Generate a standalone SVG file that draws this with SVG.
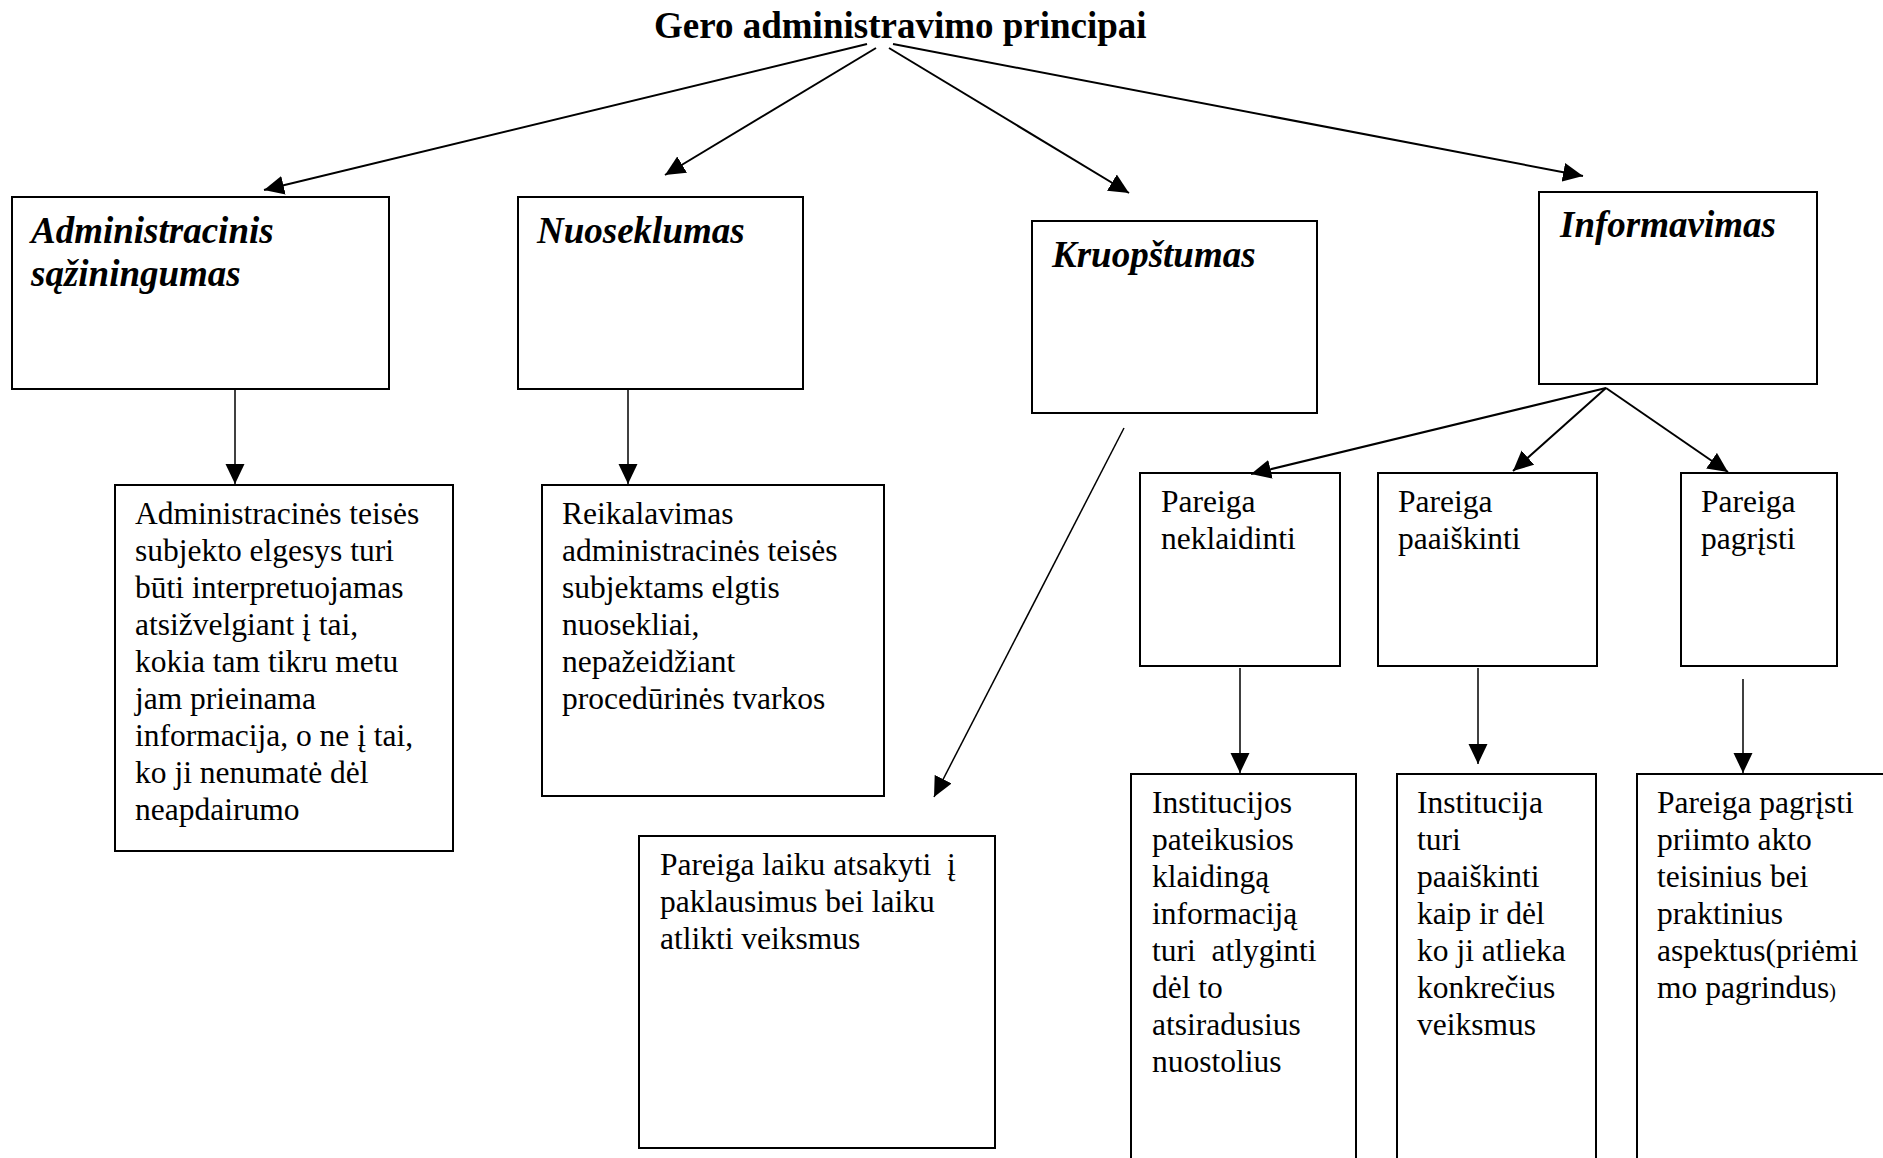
<svg xmlns="http://www.w3.org/2000/svg" width="1883" height="1158" viewBox="0 0 1883 1158">
<style>
.box{fill:#fff;stroke:#000;stroke-width:2}
.t{font-family:"Liberation Serif","Times New Roman",serif;font-size:31.5px;fill:#000}
.h{font-family:"Liberation Serif","Times New Roman",serif;font-size:37px;font-weight:bold;font-style:italic;fill:#000}
.title{font-family:"Liberation Serif","Times New Roman",serif;font-size:37px;font-weight:bold;fill:#000}
.c{fill:none;stroke:#000;stroke-width:2;marker-end:url(#ah)}
.c2{fill:none;stroke:#000;stroke-width:1.5;marker-end:url(#ah)}
</style>
<defs>
<marker id="ah" markerWidth="20" markerHeight="20" refX="20" refY="10" orient="auto" markerUnits="userSpaceOnUse">
<path d="M0,0.5 L20,10 L0,19.5 z" fill="#000"/>
</marker>
</defs>
<rect width="1883" height="1158" fill="#fff"/>

<g id="title"><text class="title" x="654" y="38">Gero administravimo principai</text></g>

<g id="n-sazin">
<rect class="box" x="12" y="197" width="377" height="192"/>
<text class="h" x="31" y="243">Administracinis</text>
<text class="h" x="31" y="286">sąžiningumas</text>
</g>
<g id="n-nuosek">
<rect class="box" x="518" y="197" width="285" height="192"/>
<text class="h" x="537" y="243">Nuoseklumas</text>
</g>
<g id="n-kruop">
<rect class="box" x="1032" y="221" width="285" height="192"/>
<text class="h" x="1052" y="267">Kruopštumas</text>
</g>
<g id="n-inform">
<rect class="box" x="1539" y="192" width="278" height="192"/>
<text class="h" x="1560" y="237">Informavimas</text>
</g>

<g id="n-admtext">
<rect class="box" x="115" y="485" width="338" height="366"/>
<text class="t" x="135" y="524">Administracinės teisės</text>
<text class="t" x="135" y="561">subjekto elgesys turi</text>
<text class="t" x="135" y="598">būti interpretuojamas</text>
<text class="t" x="135" y="635">atsižvelgiant į tai,</text>
<text class="t" x="135" y="672">kokia tam tikru metu</text>
<text class="t" x="135" y="709">jam prieinama</text>
<text class="t" x="135" y="746">informacija, o ne į tai,</text>
<text class="t" x="135" y="783">ko ji nenumatė dėl</text>
<text class="t" x="135" y="820">neapdairumo</text>
</g>
<g id="n-reikal">
<rect class="box" x="542" y="485" width="342" height="311"/>
<text class="t" x="562" y="524">Reikalavimas</text>
<text class="t" x="562" y="561">administracinės teisės</text>
<text class="t" x="562" y="598">subjektams elgtis</text>
<text class="t" x="562" y="635">nuosekliai,</text>
<text class="t" x="562" y="672">nepažeidžiant</text>
<text class="t" x="562" y="709">procedūrinės tvarkos</text>
</g>
<g id="n-laiku">
<rect class="box" x="639" y="836" width="356" height="312"/>
<text class="t" x="660" y="875" xml:space="preserve">Pareiga laiku atsakyti  į</text>
<text class="t" x="660" y="912">paklausimus bei laiku</text>
<text class="t" x="660" y="949">atlikti veiksmus</text>
</g>

<g id="n-neklaid">
<rect class="box" x="1140" y="473" width="200" height="193"/>
<text class="t" x="1161" y="512">Pareiga</text>
<text class="t" x="1161" y="549">neklaidinti</text>
</g>
<g id="n-paaisk">
<rect class="box" x="1378" y="473" width="219" height="193"/>
<text class="t" x="1398" y="512">Pareiga</text>
<text class="t" x="1398" y="549">paaiškinti</text>
</g>
<g id="n-pagr">
<rect class="box" x="1681" y="473" width="156" height="193"/>
<text class="t" x="1701" y="512">Pareiga</text>
<text class="t" x="1701" y="549">pagrįsti</text>
</g>

<g id="n-instit1">
<rect class="box" x="1131" y="774" width="225" height="400"/>
<text class="t" x="1152" y="813">Institucijos</text>
<text class="t" x="1152" y="850">pateikusios</text>
<text class="t" x="1152" y="887">klaidingą</text>
<text class="t" x="1152" y="924">informaciją</text>
<text class="t" x="1152" y="961" xml:space="preserve">turi  atlyginti</text>
<text class="t" x="1152" y="998">dėl to</text>
<text class="t" x="1152" y="1035">atsiradusius</text>
<text class="t" x="1152" y="1072">nuostolius</text>
</g>
<g id="n-instit2">
<rect class="box" x="1397" y="774" width="199" height="400"/>
<text class="t" x="1417" y="813">Institucija</text>
<text class="t" x="1417" y="850">turi</text>
<text class="t" x="1417" y="887">paaiškinti</text>
<text class="t" x="1417" y="924">kaip ir dėl</text>
<text class="t" x="1417" y="961">ko ji atlieka</text>
<text class="t" x="1417" y="998">konkrečius</text>
<text class="t" x="1417" y="1035">veiksmus</text>
</g>
<g id="n-pagr2">
<rect class="box" x="1637" y="774" width="260" height="400"/>
<text class="t" x="1657" y="813">Pareiga pagrįsti</text>
<text class="t" x="1657" y="850">priimto akto</text>
<text class="t" x="1657" y="887">teisinius bei</text>
<text class="t" x="1657" y="924">praktinius</text>
<text class="t" x="1657" y="961">aspektus(priėmi</text>
<text class="t" x="1657" y="998">mo pagrindus<tspan font-size="20">)</tspan></text>
</g>

<g id="connectors">
<line class="c" x1="867" y1="44" x2="264" y2="190"/>
<line class="c" x1="876" y1="48" x2="665" y2="175"/>
<line class="c" x1="889" y1="48" x2="1129" y2="193"/>
<line class="c" x1="893" y1="44" x2="1583" y2="176"/>
<line class="c2" x1="235" y1="389" x2="235" y2="484"/>
<line class="c2" x1="628" y1="389" x2="628" y2="484"/>
<line class="c2" x1="1124" y1="428" x2="934" y2="797"/>
<line class="c" x1="1606" y1="388" x2="1251" y2="474"/>
<line class="c" x1="1606" y1="388" x2="1513" y2="471"/>
<line class="c" x1="1606" y1="388" x2="1728" y2="472"/>
<line class="c2" x1="1240" y1="668" x2="1240" y2="773"/>
<line class="c2" x1="1478" y1="668" x2="1478" y2="764"/>
<line class="c2" x1="1743" y1="679" x2="1743" y2="773"/>
</g>
</svg>
